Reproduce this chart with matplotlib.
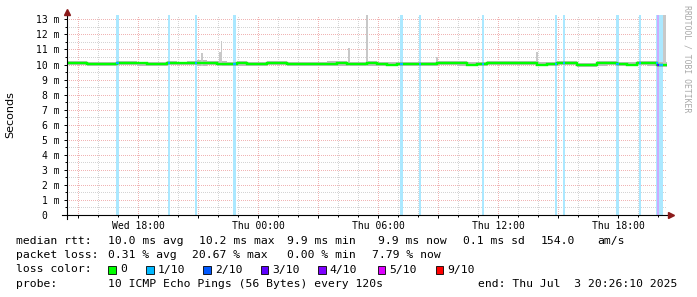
import matplotlib.pyplot as plt
import numpy as np
from matplotlib.patches import Rectangle

# time axis in hours since Wed 00:00, one value per half hour
t_start = 14.44
t_end = 44.44
median_ms = [10.08, 10.08, 10.06, 10.01, 10.02, 10.08, 10.08, 10.07, 10.01, 10.03,
             10.08, 10.07, 10.08, 10.08, 10.09, 10.06, 10.05, 10.07, 10.06, 10.05,
             10.08, 10.08, 10.06, 10.01, 10.03, 10.06, 10.06, 10.07, 10.05, 10.06,
             10.07, 10.01, 10.00, 10.06, 10.05, 10.03, 10.04, 10.08, 10.09, 10.07,
             10.00, 10.06, 10.08, 10.08, 10.08, 10.09, 10.08, 9.99, 10.01, 10.08,
             10.08, 9.95, 9.96, 10.07, 10.08, 10.02, 9.99, 10.08, 10.07, 9.97]
smoke_hi = [10.22, 10.24, 10.20, 10.16, 10.18, 10.25, 10.22, 10.20, 10.15, 10.17,
            10.22, 10.20, 10.23, 10.30, 10.24, 10.22, 10.19, 10.21, 10.20, 10.18,
            10.22, 10.21, 10.19, 10.15, 10.17, 10.20, 10.21, 10.22, 10.19, 10.20,
            10.21, 10.16, 10.15, 10.20, 10.19, 10.17, 10.19, 10.23, 10.25, 10.21,
            10.15, 10.20, 10.22, 10.24, 10.22, 10.23, 10.24, 10.14, 10.16, 10.22,
            10.23, 10.10, 10.12, 10.21, 10.24, 10.17, 10.14, 10.23, 10.24, 10.14]
smoke_lo = [9.94, 9.95, 9.93, 9.90, 9.91, 9.95, 9.94, 9.93, 9.89, 9.90,
            9.95, 9.94, 9.94, 9.93, 9.95, 9.92, 9.91, 9.93, 9.92, 9.91,
            9.94, 9.94, 9.92, 9.89, 9.90, 9.92, 9.93, 9.93, 9.91, 9.92,
            9.93, 9.89, 9.88, 9.92, 9.91, 9.90, 9.91, 9.94, 9.95, 9.93,
            9.88, 9.92, 9.94, 9.94, 9.94, 9.95, 9.94, 9.87, 9.89, 9.94,
            9.94, 9.84, 9.85, 9.93, 9.94, 9.89, 9.87, 9.94, 9.93, 9.85]

# isolated smoke spikes: time, top (ms), width (h)
spike_t = [21.19, 22.12, 22.17, 28.54, 29.42, 32.94, 37.94, 44.33]
spike_top = [10.77, 10.85, 11.53, 11.08, 13.29, 10.48, 10.85, 13.29]
spike_w = [0.06, 0.15, 0.06, 0.1, 0.1, 0.06, 0.08, 0.15]

# loss events: time, loss level index, width (h)
loss_t = [16.98, 19.54, 20.87, 22.83, 31.16, 32.11, 35.25, 38.91, 39.31,
          41.98, 43.09, 43.92, 44.01, 44.16]
loss_level = [1, 1, 1, 1, 1, 1, 1, 1, 1, 1, 1, 1, 3, 1]
loss_w = [0.15, 0.1, 0.1, 0.15, 0.15, 0.1, 0.1, 0.1, 0.1, 0.15, 0.1, 0.1, 0.1, 0.2]

loss_labels = ['0', '1/10', '2/10', '3/10', '4/10', '5/10', '9/10']
loss_colors = ['#00ff00', '#00b8ff', '#0059ff', '#5e00ff', '#7e00ff', '#dd00ff', '#ff0000']

xtick_hours = [18, 24, 30, 36, 42]
xtick_labels = ['Wed 18:00', 'Thu 00:00', 'Thu 06:00', 'Thu 12:00', 'Thu 18:00']
ytick_ms = list(range(0, 14))
ytick_labels = ['0  '] + ['%d m' % v for v in range(1, 14)]

W, H = 697, 297
mono = 'DejaVu Sans Mono'


def fx(x):
    return x / W


def fy(y):
    return 1 - y / H


def light(c, a=0.33):
    rgb = np.array(plt.matplotlib.colors.to_rgb(c))
    return tuple(1 - a + a * rgb)


fig = plt.figure(figsize=(W / 100, H / 100), dpi=100)
fig.patch.set_facecolor('white')
ax = fig.add_axes([fx(67), fy(215), fx(600), 200 / H])
ax.set_xlim(t_start, t_end)
ax.set_ylim(0, 13.29)

# grid (dotted)
dot = dict(lw=0.72, ls=(0, (1, 2)), antialiased=False)
for h in np.arange(15, 45, 1):
    if h % 3:
        ax.axvline(h, color='#d4d4d4', zorder=0, **dot)
for h in np.arange(15, 45, 3):
    ax.axvline(h, color='#f0b4b4', zorder=0.5, **dot)
for v in np.arange(0.5, 13.3, 1.0):
    ax.axhline(v, color='#d4d4d4', zorder=0, **dot)
for v in range(1, 14):
    ax.axhline(v, color='#f0b4b4', zorder=0.5, **dot)

# loss bars
for t, lv, w in zip(loss_t, loss_level, loss_w):
    ax.axvspan(t - w / 2, t + w / 2, color=light(loss_colors[lv]), lw=0, zorder=1)

# smoke
edges = np.linspace(t_start, t_end, len(median_ms) + 1)
ax.stairs(smoke_hi, edges, baseline=smoke_lo, fill=True, color='#bcbcbc', zorder=2)
for t, top, w in zip(spike_t, spike_top, spike_w):
    i = min(int((t - t_start) / 0.5), len(median_ms) - 1)
    ax.bar(t, top - smoke_lo[i], bottom=smoke_lo[i], width=w, color='#c8c8c8', lw=0, zorder=2)

# median
ax.stairs(median_ms, edges, baseline=None, color=loss_colors[0], lw=1.7, zorder=3)
for t, lv, w in zip(loss_t, loss_level, loss_w):
    i = min(int((t - t_start) / 0.5), len(median_ms) - 1)
    ax.plot([t - w / 2, t + w / 2], [median_ms[i]] * 2, color=loss_colors[lv], lw=1.7,
            solid_capstyle='butt', zorder=4)

# axes
for s in ax.spines.values():
    s.set_visible(False)
ax.plot([-0.008, 1.005], [0, 0], transform=ax.transAxes, color='black', lw=0.8,
        clip_on=False, zorder=5)
ax.plot([0, 0], [-0.02, 1.015], transform=ax.transAxes, color='black', lw=0.8,
        clip_on=False, zorder=5)
ax.plot([0], [1.015], marker='^', ms=4, color='#8b1a1a', transform=ax.transAxes,
        clip_on=False, zorder=6)
ax.plot([1.007], [0], marker='>', ms=4, color='#8b1a1a', transform=ax.transAxes,
        clip_on=False, zorder=6)

ax.set_xticks(np.arange(15, 45, 3))
ax.set_xticklabels([xtick_labels[xtick_hours.index(h)] if h in xtick_hours else ''
                    for h in range(15, 45, 3)])
ax.set_xticks(np.arange(15, 45, 1), minor=True)
ax.set_yticks(ytick_ms)
ax.set_yticklabels(ytick_labels)
ax.set_yticks(np.arange(0.5, 13.3, 1.0), minor=True)
ax.tick_params(axis='both', which='major', length=2.5, width=0.7, color='black',
               labelsize=7, pad=3)
ax.tick_params(axis='x', which='major', pad=1.5)
ax.tick_params(axis='both', which='minor', length=1.5, width=0.7, color='black')
for lab in ax.get_xticklabels() + ax.get_yticklabels():
    lab.set_family(mono)

fig.text(fx(10), fy(115), 'Seconds', rotation=90, ha='center', va='center',
         fontsize=8, family='DejaVu Sans')
fig.text(fx(687), fy(5), 'RRDTOOL / TOBI OETIKER', rotation=270, ha='center', va='top',
         fontsize=5.9, family=mono, color='#a8a8a8')

# legend block
fs = 8.2
rows = [241, 255.5, 269.5, 284]
fig.text(fx(16), fy(rows[0]), 'median rtt:', fontsize=fs, family=mono, va='center')
for x, s in [(107.7, '10.0 ms avg'), (199, '10.2 ms max'), (286.7, '9.9 ms min'),
             (377.7, '9.9 ms now'), (463, '0.1 ms sd'), (541, '154.0'), (597.7, 'am/s')]:
    fig.text(fx(x), fy(rows[0]), s, fontsize=fs, family=mono, va='center')
fig.text(fx(16), fy(rows[1]), 'packet loss:', fontsize=fs, family=mono, va='center')
for x, s in [(107.7, '0.31 % avg'), (192.3, '20.67 % max'), (286.7, '0.00 % min'),
             (372.3, '7.79 % now')]:
    fig.text(fx(x), fy(rows[1]), s, fontsize=fs, family=mono, va='center')
fig.text(fx(16), fy(rows[2]), 'loss color:', fontsize=fs, family=mono, va='center')
for x, lab, col in zip([108.3, 146, 203.3, 260.7, 318, 377.7, 435.7], loss_labels, loss_colors):
    fig.add_artist(Rectangle((fx(x), fy(rows[2] + 4)), fx(7.5), 7.5 / H, facecolor=col,
                             edgecolor='black', lw=0.6, transform=fig.transFigure))
    fig.text(fx(x + 11.5), fy(rows[2]), lab, fontsize=fs, family=mono, va='center')
fig.text(fx(16), fy(rows[3]), 'probe:', fontsize=fs, family=mono, va='center')
fig.text(fx(107.7), fy(rows[3]), '10 ICMP Echo Pings (56 Bytes) every 120s', fontsize=fs,
         family=mono, va='center')
fig.text(fx(478.3), fy(rows[3]), 'end: Thu Jul  3 20:26:10 2025', fontsize=fs,
         family=mono, va='center')

fig.savefig('out.png', dpi=100)
